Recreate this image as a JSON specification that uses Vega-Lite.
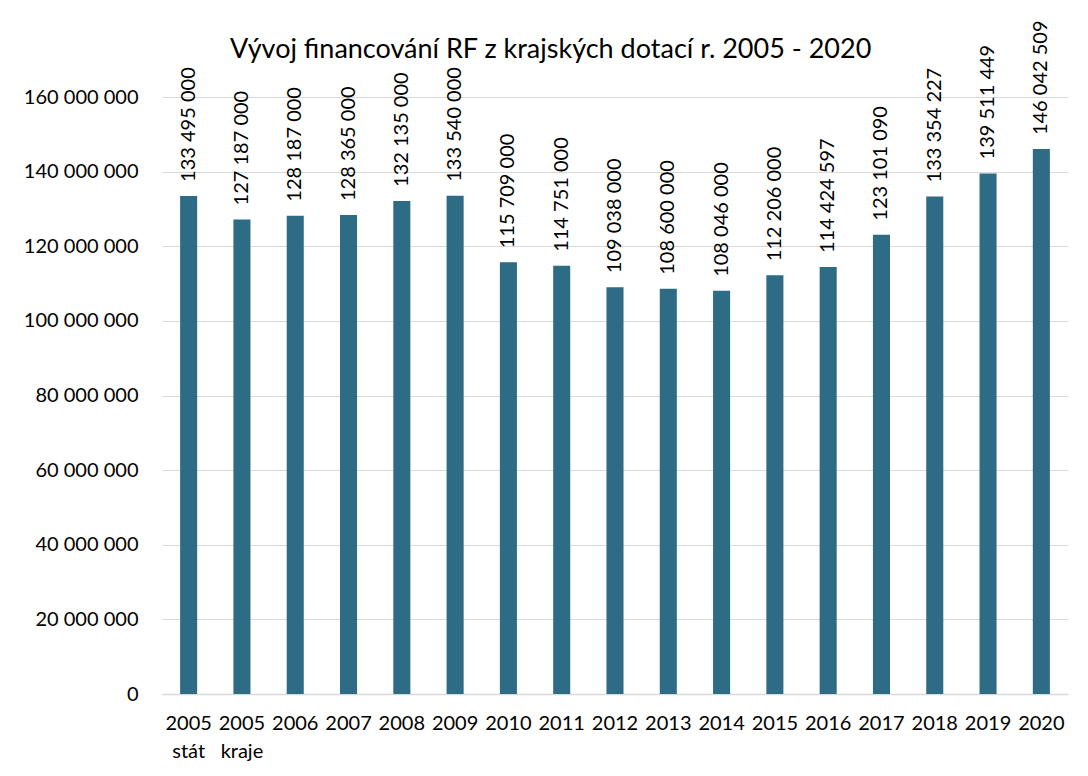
{
  "$schema": "https://vega.github.io/schema/vega-lite/v6.json",
  "autosize": "none",
  "width": 906,
  "height": 597,
  "padding": {"left": 162, "top": 97, "right": 20, "bottom": 82},
  "background": "white",
  "config": {
    "font": "Lato",
    "view": {"stroke": null},
    "locale": {"number": {"decimal": ",", "thousands": " ", "grouping": [3], "currency": ["", " Kč"]}}
  },
  "title": {
    "text": "Vývoj financování RF z krajských dotací r. 2005 - 2020",
    "font": "Lato",
    "fontSize": 27,
    "fontWeight": "normal",
    "color": "#000000",
    "anchor": "middle",
    "frame": "bounds",
    "dx": 5,
    "offset": -44
  },
  "data": {
    "values": [
      {"kat": "2005 stát", "castka": 133495000},
      {"kat": "2005 kraje", "castka": 127187000},
      {"kat": "2006", "castka": 128187000},
      {"kat": "2007", "castka": 128365000},
      {"kat": "2008", "castka": 132135000},
      {"kat": "2009", "castka": 133540000},
      {"kat": "2010", "castka": 115709000},
      {"kat": "2011", "castka": 114751000},
      {"kat": "2012", "castka": 109038000},
      {"kat": "2013", "castka": 108600000},
      {"kat": "2014", "castka": 108046000},
      {"kat": "2015", "castka": 112206000},
      {"kat": "2016", "castka": 114424597},
      {"kat": "2017", "castka": 123101090},
      {"kat": "2018", "castka": 133354227},
      {"kat": "2019", "castka": 139511449},
      {"kat": "2020", "castka": 146042509}
    ]
  },
  "encoding": {
    "x": {
      "field": "kat",
      "type": "nominal",
      "sort": null,
      "scale": {"paddingInner": 0.68, "paddingOuter": 0.34},
      "axis": {
        "title": null,
        "labelAngle": 0,
        "labelFontSize": 20,
        "labelColor": "#000000",
        "labelExpr": "split(datum.label, ' ')",
        "labelLineHeight": 28,
        "labelPadding": 19,
        "ticks": false,
        "domainColor": "#d9d9d9",
        "domainWidth": 1.5
      }
    },
    "y": {
      "field": "castka",
      "type": "quantitative",
      "scale": {"domain": [0, 160000000], "nice": false},
      "axis": {
        "title": null,
        "values": [0, 20000000, 40000000, 60000000, 80000000, 100000000, 120000000, 140000000, 160000000],
        "format": ",d",
        "labelFontSize": 20,
        "labelColor": "#000000",
        "labelPadding": 24,
        "ticks": false,
        "domain": false,
        "gridColor": "#d9d9d9",
        "gridWidth": 1.2
      }
    }
  },
  "layer": [
    {"mark": {"type": "bar", "color": "#2e6b84"}},
    {
      "mark": {"type": "text", "angle": 270, "align": "left", "baseline": "middle", "dx": 14, "fontSize": 20, "color": "#000000"},
      "encoding": {"text": {"field": "castka", "type": "quantitative", "format": ",d"}}
    }
  ]
}
